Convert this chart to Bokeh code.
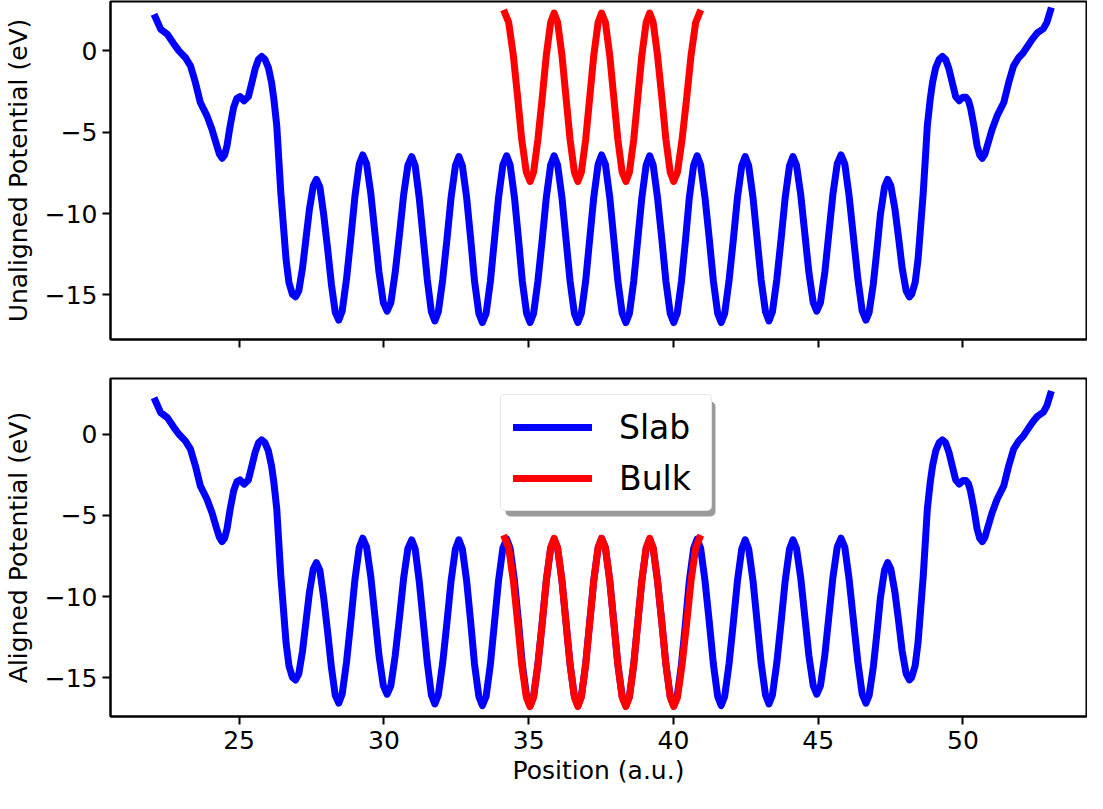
from bokeh.plotting import figure
from bokeh.layouts import column
from bokeh.models import (Range1d, FixedTicker, Legend, LegendItem, BoxAnnotation,
                          CustomJSTickFormatter)
from bokeh.embed import file_html
from bokeh.resources import INLINE

# ---------------- data ----------------
# planar-averaged potential of the slab, (position a.u., potential eV)
slab_xy = [
    (22.11, 2.05), (22.29, 1.33), (22.52, 1.02), (22.75, 0.41), (22.92, 0.00), (23.14, -0.41),
    (23.32, -0.92), (23.49, -1.95), (23.66, -3.18), (23.89, -4.00), (24.06, -4.82), (24.23, -5.84),
    (24.32, -6.35), (24.41, -6.60), (24.50, -6.40), (24.58, -5.84), (24.69, -4.61), (24.81, -3.48),
    (24.92, -2.93), (25.03, -2.81), (25.17, -3.07), (25.32, -2.81), (25.44, -1.95), (25.55, -1.13),
    (25.67, -0.52), (25.78, -0.35), (25.89, -0.52), (26.01, -1.03), (26.12, -1.95), (26.20, -2.97),
    (26.30, -4.61), (26.37, -6.66), (26.44, -8.71), (26.53, -10.76), (26.62, -12.81), (26.72, -14.24),
    (26.84, -14.96), (26.95, -15.12),
    (27.06, -14.75), (27.19, -13.34), (27.31, -11.52), (27.43, -9.71), (27.56, -8.30), (27.67, -7.90),
    (27.79, -8.38), (27.92, -10.06), (28.06, -12.23), (28.19, -14.39), (28.32, -16.07), (28.44, -16.55),
    (28.56, -15.99), (28.71, -14.01), (28.86, -11.47), (29.00, -8.94), (29.15, -6.96), (29.27, -6.40),
    (29.40, -6.93), (29.55, -8.80), (29.69, -11.20), (29.83, -13.60), (29.98, -15.47), (30.11, -16.00),
    (30.24, -15.48), (30.39, -13.63), (30.54, -11.25), (30.68, -8.88), (30.83, -7.02), (30.96, -6.50),
    (31.08, -7.06), (31.22, -9.03), (31.36, -11.55), (31.50, -14.08), (31.64, -16.04), (31.76, -16.60),
    (31.88, -16.04), (32.03, -14.08), (32.18, -11.55), (32.32, -9.03), (32.47, -7.06), (32.59, -6.50),
    (32.71, -7.06), (32.86, -9.05), (33.00, -11.60), (33.13, -14.15), (33.28, -16.14), (33.40, -16.70),
    (33.53, -16.14), (33.68, -14.14), (33.82, -11.58), (33.96, -9.01), (34.11, -7.01), (34.24, -6.45),
    (34.36, -7.01), (34.51, -9.01), (34.65, -11.58), (34.78, -14.14), (34.93, -16.14), (35.05, -16.70),
    (35.17, -16.14), (35.32, -14.14), (35.47, -11.58), (35.61, -9.01), (35.76, -7.01), (35.88, -6.45),
    (36.00, -7.01), (36.15, -9.01), (36.29, -11.58), (36.43, -14.14), (36.58, -16.14), (36.70, -16.70),
    (36.82, -16.13), (36.97, -14.13), (37.11, -11.55), (37.25, -8.98), (37.40, -6.97), (37.52, -6.40),
    (37.65, -6.97), (37.80, -8.98), (37.94, -11.55), (38.08, -14.13), (38.23, -16.13), (38.36, -16.70),
    (38.48, -16.14), (38.63, -14.14), (38.77, -11.58), (38.91, -9.01), (39.06, -7.01), (39.18, -6.45),
    (39.30, -7.01), (39.45, -9.01), (39.60, -11.58), (39.74, -14.14), (39.89, -16.14), (40.01, -16.70),
    (40.13, -16.14), (40.28, -14.14), (40.42, -11.58), (40.55, -9.01), (40.70, -7.01), (40.82, -6.45),
    (40.94, -7.01), (41.09, -9.01), (41.24, -11.58), (41.38, -14.14), (41.53, -16.14), (41.65, -16.70),
    (41.77, -16.14), (41.92, -14.15), (42.07, -11.60), (42.21, -9.05), (42.36, -7.06), (42.48, -6.50),
    (42.60, -7.06), (42.75, -9.03), (42.89, -11.55), (43.03, -14.08), (43.18, -16.04), (43.30, -16.60),
    (43.42, -16.04), (43.57, -14.08), (43.72, -11.55), (43.86, -9.03), (44.01, -7.06), (44.13, -6.50),
    (44.25, -7.02), (44.40, -8.88), (44.54, -11.25), (44.68, -13.63), (44.83, -15.48), (44.95, -16.00),
    (45.08, -15.47), (45.23, -13.60), (45.37, -11.20), (45.51, -8.80), (45.66, -6.93), (45.79, -6.40),
    (45.92, -6.96), (46.07, -8.94), (46.22, -11.48), (46.37, -14.01), (46.52, -15.99), (46.65, -16.55),
    (46.76, -16.07), (46.90, -14.39), (47.03, -12.22), (47.15, -10.06), (47.29, -8.38), (47.40, -7.90),
    (47.51, -8.30), (47.65, -9.71), (47.78, -11.53), (47.90, -13.34), (48.04, -14.75), (48.15, -15.12),
    (48.23, -14.96), (48.35, -14.24), (48.45, -12.81), (48.54, -10.76), (48.63, -8.71), (48.70, -6.66),
    (48.77, -4.61), (48.87, -2.97), (48.95, -1.95), (49.06, -1.03), (49.18, -0.52), (49.29, -0.35),
    (49.40, -0.52), (49.52, -1.13), (49.63, -1.95), (49.75, -2.81), (49.87, -3.07), (50.00, -2.85),
    (50.10, -2.85), (50.19, -3.05), (50.26, -3.48), (50.38, -4.61), (50.49, -5.84), (50.58, -6.40),
    (50.67, -6.60), (50.76, -6.35), (50.84, -5.84), (51.01, -4.82), (51.18, -4.00), (51.41, -3.18),
    (51.58, -1.95), (51.75, -0.92), (51.93, -0.41), (52.07, -0.15), (52.22, 0.25), (52.41, 0.75),
    (52.58, 1.12), (52.78, 1.36), (52.90, 1.75), (53.02, 2.46),
]

# planar-averaged potential of the bulk (unaligned), (position a.u., potential eV)
bulk_xy = [
    (34.18, 2.32),
    (34.31, 1.75), (34.47, -0.27), (34.62, -2.86), (34.76, -5.44), (34.92, -7.46), (35.05, -8.03),
    (35.17, -7.46), (35.32, -5.44), (35.47, -2.86), (35.61, -0.27), (35.76, 1.75), (35.88, 2.32),
    (36.00, 1.75), (36.15, -0.27), (36.29, -2.86), (36.43, -5.44), (36.58, -7.46), (36.70, -8.03),
    (36.82, -7.46), (36.97, -5.44), (37.11, -2.86), (37.25, -0.27), (37.40, 1.75), (37.52, 2.32),
    (37.65, 1.75), (37.80, -0.27), (37.94, -2.86), (38.08, -5.44), (38.23, -7.46), (38.36, -8.03),
    (38.48, -7.46), (38.63, -5.44), (38.77, -2.86), (38.91, -0.27), (39.06, 1.75), (39.18, 2.32),
    (39.30, 1.75), (39.45, -0.27), (39.60, -2.86), (39.74, -5.44), (39.89, -7.46), (40.01, -8.03),
    (40.14, -7.46), (40.30, -5.44), (40.46, -2.86), (40.61, -0.27), (40.77, 1.75), (40.90, 2.32),
]

alignment_offset = -8.73          # eV shift applied to the bulk in the lower panel
x_ticks = [25, 30, 35, 40, 45, 50]
y_ticks = [-15, -10, -5, 0]
series_names = ["Slab", "Bulk"]
series_colors = ["#0000ff", "#ff0000"]
y_labels = ["Unaligned Potential (eV)", "Aligned Potential (eV)"]
x_label = "Position (a.u.)"

slab_x = [p[0] for p in slab_xy]
slab_y = [p[1] for p in slab_xy]
bulk_x = [p[0] for p in bulk_xy]
bulk_y = [p[1] for p in bulk_xy]
bulk_aligned_y = [v + alignment_offset for v in bulk_y]

FONT = "DejaVu Sans"
LW = 7
x_range = Range1d(20.557, 54.268)
minus_fmt = "return tick < 0 ? '\\u2212' + (-tick) : '' + tick;"


def make_panel(height, mb_top, mb_bottom, ylabel, yr, show_x):
    p = figure(width=1087, height=height, x_range=x_range, y_range=Range1d(*yr),
               output_backend="svg", toolbar_location=None,
               min_border_left=105, min_border_right=1,
               min_border_top=mb_top, min_border_bottom=mb_bottom)
    p.grid.visible = False
    p.background_fill_color = "white"
    p.border_fill_color = "white"
    p.outline_line_color = "black"
    p.outline_line_width = 2
    for ax in (p.xaxis[0], p.yaxis[0]):
        ax.axis_line_color = "black"
        ax.axis_line_width = 2
        ax.major_tick_line_width = 2
        ax.major_tick_line_color = "black"
        ax.major_tick_out = 8
        ax.major_tick_in = 0
        ax.minor_tick_out = 0
        ax.minor_tick_in = 0
        ax.major_label_text_font = FONT
        ax.major_label_text_font_size = "25px"
        ax.major_label_text_color = "black"
        ax.major_label_standoff = 5
        ax.axis_label_text_font = FONT
        ax.axis_label_text_font_size = "25px"
        ax.axis_label_text_font_style = "normal"
        ax.axis_label_text_color = "black"
    p.yaxis.ticker = FixedTicker(ticks=y_ticks)
    p.yaxis.formatter = CustomJSTickFormatter(code=minus_fmt)
    p.yaxis.axis_label = ylabel
    p.yaxis.axis_label_standoff = 9
    if show_x:
        p.xaxis.ticker = FixedTicker(ticks=x_ticks)
        p.xaxis.axis_label = x_label
        p.xaxis.major_label_standoff = 6
        p.xaxis.axis_label_standoff = 4
    else:
        # shared x axis: tick marks only, no labels (drawn as minor ticks)
        p.xaxis.ticker = FixedTicker(ticks=[], minor_ticks=x_ticks)
        p.xaxis.major_tick_out = 0
        p.xaxis.minor_tick_out = 8
        p.xaxis.minor_tick_line_width = 2
        p.xaxis.minor_tick_line_color = "black"
    return p


p1 = make_panel(358, 1, 19, y_labels[0], (-17.74, 3.03), False)
p1.line(slab_x, slab_y, line_color=series_colors[0], line_width=LW,
        line_cap="square", line_join="round")
p1.line(bulk_x, bulk_y, line_color=series_colors[1], line_width=LW,
        line_cap="square", line_join="round")

p2 = make_panel(434, 20, 76, y_labels[1], (-17.37, 3.43), True)
r_slab = p2.line(slab_x, slab_y, line_color=series_colors[0], line_width=LW,
                 line_cap="square", line_join="round")
r_bulk = p2.line(bulk_x, bulk_aligned_y, line_color=series_colors[1], line_width=LW,
                 line_cap="square", line_join="round")

# legend drop shadow (screen units, relative to the frame's lower-left corner)
shadow = BoxAnnotation(left=395, right=605, bottom=200, top=315,
                       left_units="screen", right_units="screen",
                       bottom_units="screen", top_units="screen",
                       fill_color="#9a9a9a", fill_alpha=1.0, line_color=None)
if "border_radius" in BoxAnnotation.properties():
    shadow.border_radius = 5
p2.add_layout(shadow)

legend = Legend(items=[LegendItem(label=series_names[0], renderers=[r_slab]),
                       LegendItem(label=series_names[1], renderers=[r_bulk])],
                location=(390, 205), orientation="vertical")
legend.label_text_font = FONT
legend.label_text_font_size = "33px"
legend.label_text_color = "black"
legend.glyph_width = 79
legend.glyph_height = 40
legend.label_height = 40
legend.label_width = 80
legend.label_standoff = 27
legend.padding = 12
legend.spacing = 11
legend.margin = 0
legend.border_line_color = "#cccccc"
legend.border_line_width = 1.5
legend.background_fill_color = "white"
legend.background_fill_alpha = 1.0
if "border_radius" in Legend.properties():
    legend.border_radius = 5
p2.add_layout(legend)

layout = column(p1, p2, spacing=0)
open("out.html", "w").write(file_html(layout, INLINE))
